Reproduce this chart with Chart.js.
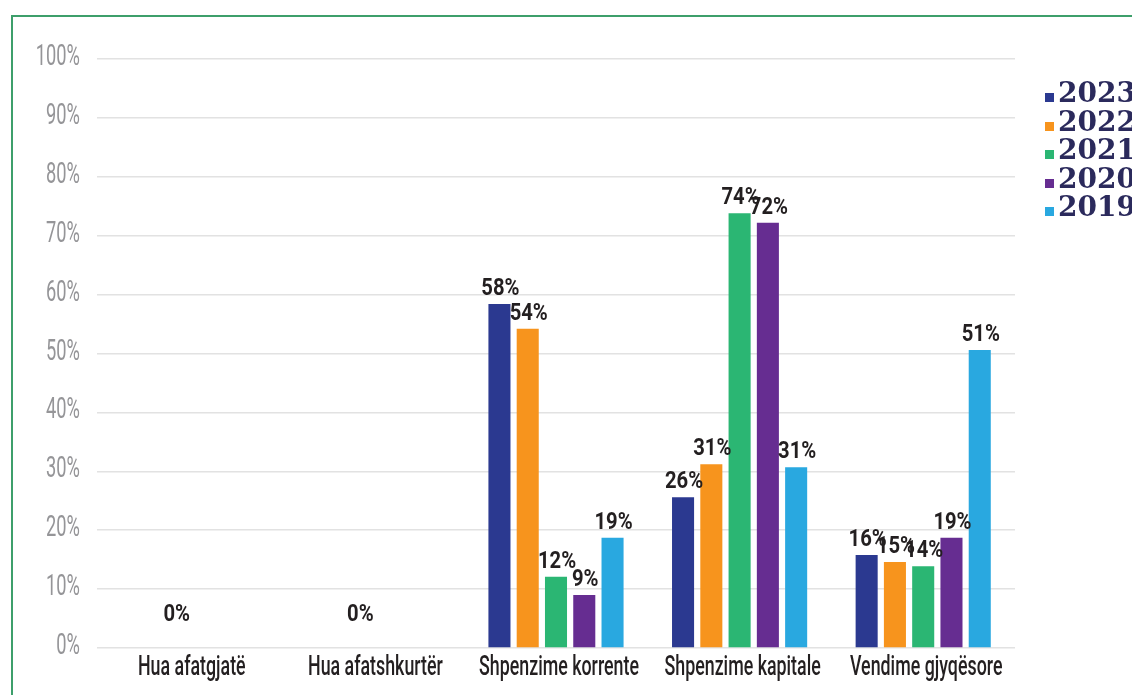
<!DOCTYPE html>
<html>
<head>
<meta charset="utf-8">
<script src="https://cdn.jsdelivr.net/npm/chart.js@4.4.0/dist/chart.umd.min.js"></script>
<style>
  html, body { margin: 0; padding: 0; background: #fff; overflow: hidden; }
  #wrap { position: relative; width: 1132px; height: 695px; }
  #frame { position: absolute; left: 11px; top: 15px; right: -5px; bottom: -5px;
           border-left: 2px solid #3d9f6b; border-top: 2px solid #3d9f6b; }
  #legend { position: absolute; left: 1045px; top: 79px; }
  .row { position: relative; height: 28.5px; white-space: nowrap;
         font-family: "DejaVu Serif", serif; font-weight: bold; font-size: 28px;
         color: #2b2a5c; line-height: 28.5px; }
  .sq { display: inline-block; width: 9px; height: 9px; margin-right: 4px; }
</style>
</head>
<body>
<div id="wrap">
  <canvas id="myChart" width="1132" height="695"></canvas>
  <div id="frame"></div>
  <div id="legend"></div>
</div>
<script>
const categories = ['Hua afatgjatë', 'Hua afatshkurtër', 'Shpenzime korrente', 'Shpenzime kapitale', 'Vendime gjyqësore'];
const years = ['2023', '2022', '2021', '2020', '2019'];
const v2023 = [0, 0, 58.4, 25.6, 15.8];
const v2022 = [0, 0, 54.2, 31.2, 14.6];
const v2021 = [0, 0, 12.1, 73.8, 13.9];
const v2020 = [0, 0, 9.0, 72.2, 18.7];
const v2019 = [0, 0, 18.7, 30.7, 50.6];
const colors = ['#2b3990', '#f7941d', '#2bb673', '#662d91', '#29a8e0'];
const yTicks = [0, 10, 20, 30, 40, 50, 60, 70, 80, 90, 100];

const series = [v2023, v2022, v2021, v2020, v2019];
const FONT = 'Roboto, "DejaVu Sans Condensed", sans-serif';

// legend
const legend = document.getElementById('legend');
years.forEach((y, i) => {
    const row = document.createElement('div');
    row.className = 'row';
    row.innerHTML = '<span class="sq" style="background:' + colors[i] + '"></span>' + y;
    legend.appendChild(row);
});

// draws text squeezed horizontally (the original uses a condensed face)
function squeezed(ctx, text, x, y, sx, align) {
    ctx.save();
    ctx.translate(x, y);
    ctx.scale(sx, 1);
    ctx.textAlign = align;
    ctx.fillText(text, 0, 0);
    ctx.restore();
}

const condensedText = {
    id: 'condensedText',
    afterDraw(chart) {
        const ctx = chart.ctx;
        const area = chart.chartArea;
        const xs = chart.scales.x;
        const ys = chart.scales.y;
        ctx.save();
        ctx.textBaseline = 'alphabetic';

        // y tick labels
        ctx.font = '29px ' + FONT;
        ctx.fillStyle = '#959598';
        ys.ticks.forEach((t) => {
            squeezed(ctx, t.value + '%', area.left - 17, ys.getPixelForValue(t.value) + 6, 0.63, 'right');
        });

        // x tick labels
        ctx.font = '500 27px ' + FONT;
        ctx.fillStyle = '#231f20';
        categories.forEach((c, i) => {
            squeezed(ctx, c, xs.getPixelForTick(i) + 3, area.bottom + 27, 0.66, 'center');
        });

        // value labels
        ctx.font = 'bold 23px ' + FONT;
        chart.data.datasets.forEach((ds, di) => {
            const meta = chart.getDatasetMeta(di);
            meta.data.forEach((bar, i) => {
                const v = ds.data[i];
                if (v === 0) {
                    // a single zero label per empty category
                    if (di !== 2) return;
                    squeezed(ctx, '0%', bar.x - 12, bar.y - 27, 0.88, 'center');
                    return;
                }
                squeezed(ctx, Math.round(v) + '%', bar.x + 1, bar.y - 9, 0.88, 'center');
            });
        });
        ctx.restore();
    }
};

const ctx = document.getElementById('myChart').getContext('2d');
const chart = new Chart(ctx, {
    type: 'bar',
    data: {
        labels: categories,
        datasets: years.map((y, i) => ({
            label: y,
            data: series[i],
            backgroundColor: colors[i],
            borderWidth: 0,
            categoryPercentage: 0.77,
            barPercentage: 0.78
        }))
    },
    options: {
        responsive: false,
        animation: false,
        layout: { padding: { left: 0, right: 117, top: 59, bottom: 0 } },
        plugins: {
            legend: { display: false },
            tooltip: { enabled: false }
        },
        scales: {
            x: {
                grid: { display: false },
                border: { display: false },
                ticks: {
                    color: 'rgba(0,0,0,0)',
                    font: { family: FONT, size: 12 },
                    maxRotation: 0,
                    autoSkip: false
                },
                afterFit(scale) { scale.height = 47; }
            },
            y: {
                min: 0,
                max: 100,
                afterBuildTicks(scale) { scale.ticks = yTicks.map(v => ({ value: v })); },
                grid: { color: '#e2e2e2', lineWidth: 1.5, drawTicks: false },
                border: { display: false },
                ticks: {
                    color: 'rgba(0,0,0,0)',
                    font: { family: FONT, size: 12 },
                    callback: (v) => v + '%'
                },
                afterFit(scale) { scale.width = 97; }
            }
        }
    },
    plugins: [condensedText]
});
</script>
</body>
</html>
